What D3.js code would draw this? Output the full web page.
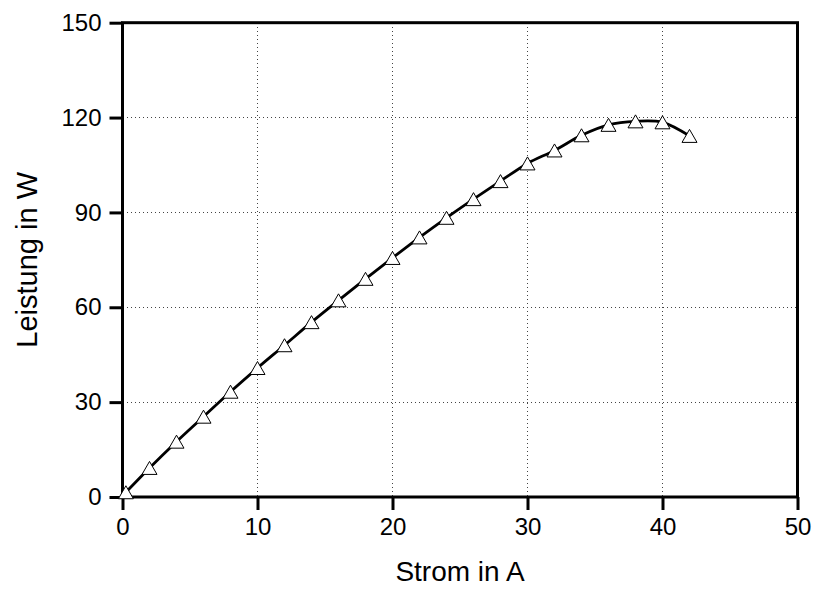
<!DOCTYPE html>
<html>
<head>
<meta charset="utf-8">
<script src="https://cdn.jsdelivr.net/npm/d3@7"></script>
<style>
  body { margin: 0; background: #fff; }
  svg { display: block; font-family: "Liberation Sans", Arial, sans-serif; }
</style>
</head>
<body>
<div id="chart"></div>
<script>
// Messwerte: Strom (A) und Leistung (W)
const strom = [0.25, 2, 4, 6, 8, 10, 12, 14, 16, 18, 20, 22, 24, 26, 28, 30, 32, 34, 36, 38, 40, 42];
const leistung = [1.5, 9.2, 17.5, 25.4, 33.3, 40.8, 48.0, 55.3, 62.2, 69.0, 75.6, 82.1, 88.3, 94.2, 99.9, 105.5, 109.6, 114.4, 117.7, 118.8, 118.5, 114.2];
const xTicks = [0, 10, 20, 30, 40, 50];
const yTicks = [0, 30, 60, 90, 120, 150];
const xGrid = [10, 20, 30, 40];
const yGrid = [30, 60, 90, 120];

const width = 815, height = 589;
const margin = { top: 22.7, right: 17.5, bottom: 92, left: 122.5 };
const innerW = width - margin.left - margin.right;
const innerH = height - margin.top - margin.bottom;

const points = strom.map((x, i) => ({ x: x, y: leistung[i] }));

const x = d3.scaleLinear().domain([0, 50]).range([0, innerW]);
const y = d3.scaleLinear().domain([0, 150]).range([innerH, 0]);

const svg = d3.select("#chart").append("svg")
  .attr("width", width)
  .attr("height", height);

const g = svg.append("g")
  .attr("transform", `translate(${margin.left},${margin.top})`);

// Gitterlinien (gepunktet)
g.append("g")
  .attr("shape-rendering", "crispEdges")
  .selectAll("line")
  .data(xGrid)
  .join("line")
  .attr("x1", d => x(d)).attr("x2", d => x(d))
  .attr("y1", 0).attr("y2", innerH)
  .attr("stroke", "#444")
  .attr("stroke-width", 1)
  .attr("stroke-dasharray", "1,3");

g.append("g")
  .attr("shape-rendering", "crispEdges")
  .selectAll("line")
  .data(yGrid)
  .join("line")
  .attr("y1", d => y(d)).attr("y2", d => y(d))
  .attr("x1", 0).attr("x2", innerW)
  .attr("stroke", "#444")
  .attr("stroke-width", 1)
  .attr("stroke-dasharray", "1,3");

// Achsen
const xAxis = g.append("g")
  .attr("transform", `translate(0,${innerH})`)
  .call(d3.axisBottom(x).tickValues(xTicks).tickSize(13).tickPadding(8).tickFormat(d3.format("d")));

const yAxis = g.append("g")
  .call(d3.axisLeft(y).tickValues(yTicks).tickSize(13).tickPadding(8).tickFormat(d3.format("d")));

[xAxis, yAxis].forEach(a => {
  a.select(".domain").remove();
  a.selectAll(".tick line").attr("stroke", "#000").attr("stroke-width", 3);
  a.selectAll(".tick text")
    .attr("fill", "#000")
    .style("font-size", "24px")
    .style("font-family", "'Liberation Sans', Arial, sans-serif");
});

// Rahmen
g.append("rect")
  .attr("x", 0).attr("y", 0)
  .attr("width", innerW).attr("height", innerH)
  .attr("fill", "none")
  .attr("stroke", "#000")
  .attr("stroke-width", 3);

// Kurve
const line = d3.line()
  .x(d => x(d.x))
  .y(d => y(d.y))
  .curve(d3.curveCatmullRom.alpha(0.5));

g.append("path")
  .datum(points)
  .attr("fill", "none")
  .attr("stroke", "#000")
  .attr("stroke-width", 2.8)
  .attr("d", line);

// Dreiecksmarker
const tw = 15, th = 13;
g.append("g")
  .selectAll("path")
  .data(points)
  .join("path")
  .attr("transform", d => `translate(${x(d.x)},${y(d.y)})`)
  .attr("d", `M0,${-th / 2}L${tw / 2},${th / 2}L${-tw / 2},${th / 2}Z`)
  .attr("fill", "#fff")
  .attr("stroke", "#000")
  .attr("stroke-width", 1);

// Achsentitel
svg.append("text")
  .attr("x", margin.left + innerW / 2)
  .attr("y", 581)
  .attr("text-anchor", "middle")
  .style("font-size", "28px")
  .text("Strom in A");

svg.append("text")
  .attr("transform", `translate(37,${margin.top + innerH / 2}) rotate(-90)`)
  .attr("text-anchor", "middle")
  .style("font-size", "29px")
  .text("Leistung in W");
</script>
</body>
</html>
